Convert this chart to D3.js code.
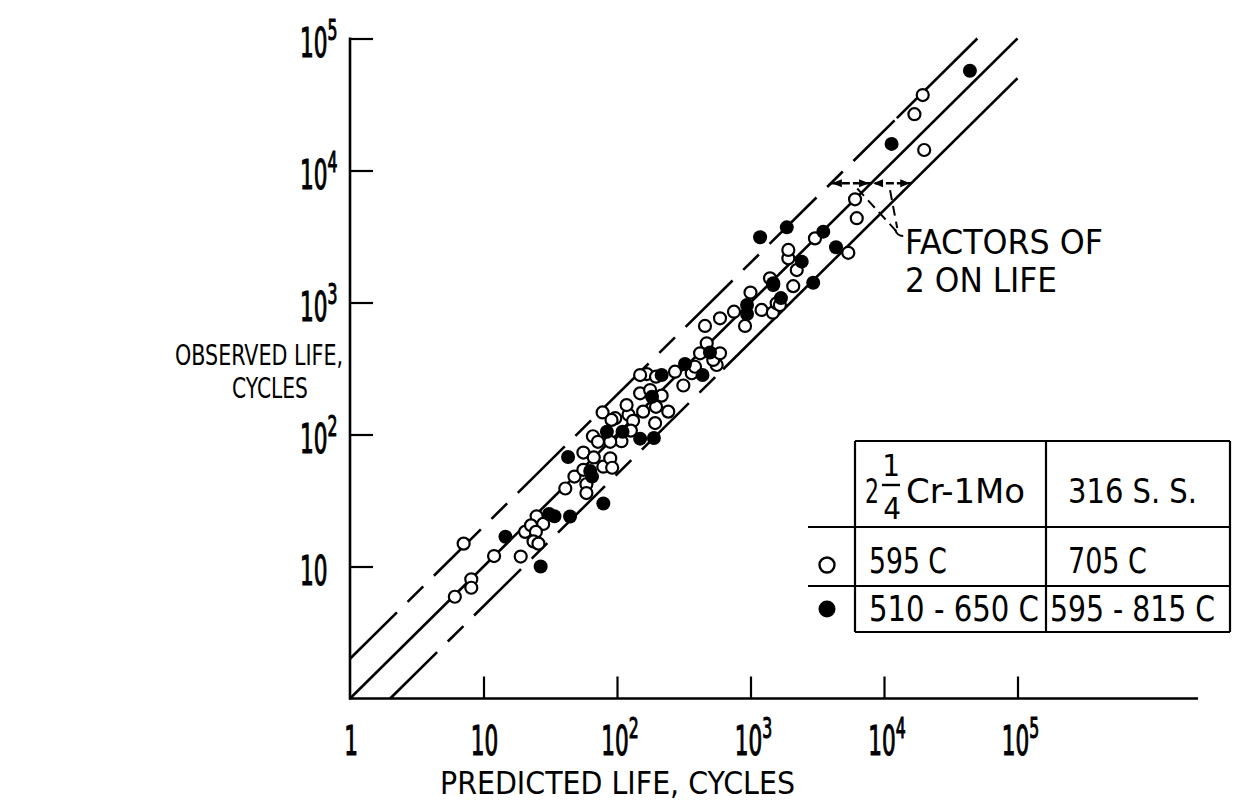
<!DOCTYPE html>
<html><head><meta charset="utf-8">
<script src="https://cdn.jsdelivr.net/npm/d3@7"></script>
<style>
body{margin:0;background:#fff}
svg{display:block}
text{font-family:"Liberation Sans Narrow","DejaVu Sans Condensed","Arial Narrow","DejaVu Sans",sans-serif;fill:#000}
</style>
</head><body>
<svg id="chart" width="1250" height="802"></svg>
<script>
// ---- data ----
const xTickValues = [1, 10, 100, 1000, 10000, 100000];
const xTickBase   = ["1", "10", "10", "10", "10", "10"];
const xTickExp    = ["", "", "2", "3", "4", "5"];
const yTickValues = [10, 100, 1000, 10000, 100000];
const yTickBase   = ["10", "10", "10", "10", "10"];
const yTickExp    = ["", "2", "3", "4", "5"];

const openPredicted = [6.1, 8.1, 8.1, 7.1, 12, 19, 25, 28, 20.5, 22.7, 24.7, 23.7, 25.8, 41, 48, 59, 59, 56, 67, 79, 89, 92, 56, 66, 72, 108, 89, 78, 97, 122, 132, 127, 157, 196, 242, 193, 149, 216, 167, 196, 272, 314, 363, 384, 419, 470, 558, 526, 591, 456, 591, 752, 910, 1000, 1210, 1470, 1570, 1400, 1480, 2090, 1920, 2220, 1920, 3040, 5400, 6070, 6250, 20000, 16900, 19500, 1660, 149, 177, 118, 91];
const openObserved  = [5.9, 8.0, 6.9, 14.9, 12, 11.9, 24, 21, 18.3, 20.5, 18.3, 15.5, 14.9, 39, 48, 42, 36, 73, 67, 57, 66, 56, 54, 97, 88, 89, 88, 147, 133, 141, 127, 107, 149, 162, 149, 122, 205, 197, 287, 274, 299, 235, 291, 326, 412, 491, 336, 367, 412, 664, 759, 852, 664, 1190, 878, 837, 986, 1525, 1360, 1330, 2160, 1760, 2500, 3060, 2380, 6050, 4350, 14300, 26700, 37300, 957, 282, 217, 167, 129];

const filledPredicted = [14.6, 26.8, 31, 34, 44.5, 79, 43, 63, 84, 110, 149, 189, 183, 216, 323, 437, 497, 942, 942, 1690, 1480, 2950, 2420, 1180, 1870, 3510, 4370, 11400, 44000, 65];
const filledObserved  = [16.8, 10, 25, 24, 23.9, 30, 67.5, 53, 105, 105, 93, 94, 193, 282, 342, 282, 418, 957, 818, 1080, 1400, 1410, 2040, 3120, 3710, 3440, 2620, 15900, 57000, 48];

// scatter band lines: observed = factor * predicted; dashed below dashTo, solid above
const bandFactors = [2, 1, 0.5];
const bandDashTo  = [12000, null, 600];

const arrowObserved = 8000;

const legendHeader = ["316 S. S."];
const legendRowsCrMo = ["595 C", "510 - 650 C"];
const legendRowsSS   = ["705 C", "595 - 815 C"];

const xTitle = "PREDICTED LIFE, CYCLES";
const yTitle = ["OBSERVED LIFE,", "CYCLES"];
const noteLines = ["FACTORS OF", "2 ON LIFE"];

// ---- drawing ----
const svg = d3.select("#chart");
const x = d3.scaleLog().domain([1, 1e5]).range([350, 350 + 5 * 133.5]);
const y = d3.scaleLog().domain([1, 1e5]).range([698.5, 698.5 - 5 * 132]);
const X0 = 350, Y0 = 698.5;

// axes
svg.append("g").attr("transform", `translate(0,${Y0})`)
  .call(d3.axisTop(x).tickValues(xTickValues.slice(1)).tickSize(22).tickSizeOuter(0).tickFormat(""))
  .call(g => g.select(".domain").remove())
  .selectAll("line").attr("stroke", "#000").attr("stroke-width", 2.2);
svg.append("line").attr("x1", X0 - 1).attr("x2", 1198).attr("y1", Y0).attr("y2", Y0)
  .attr("stroke", "#000").attr("stroke-width", 2.6);

svg.append("g").attr("transform", `translate(${X0},0)`)
  .call(d3.axisRight(y).tickValues(yTickValues).tickSize(23).tickSizeOuter(0).tickFormat(""))
  .call(g => g.select(".domain").remove())
  .selectAll("line").attr("stroke", "#000").attr("stroke-width", 2.2);
svg.append("line").attr("x1", X0).attr("x2", X0).attr("y1", Y0 + 1).attr("y2", y(1e5) - 1)
  .attr("stroke", "#000").attr("stroke-width", 2.6);

// tick labels
function numLabel(g, base, exp, anchor) {
  const t = g.append("text").attr("text-anchor", anchor).attr("font-size", 40)
    .attr("stroke", "#000").attr("stroke-width", 1.1)
    .attr("transform", "scale(0.6,1)");
  t.append("tspan").text(base);
  if (exp) t.append("tspan").attr("font-size", 29).attr("dy", -17).text(exp);
}
xTickValues.forEach((v, i) => {
  const g = svg.append("g").attr("transform", `translate(${x(v) + (xTickExp[i] ? 3 : 1)},755)`);
  numLabel(g, xTickBase[i], xTickExp[i], "middle");
});
yTickValues.forEach((v, i) => {
  const g = svg.append("g").attr("transform", `translate(300,${y(v) + 18})`);
  numLabel(g, yTickBase[i], yTickExp[i], "start");
});

// titles
svg.append("text").attr("x", 440).attr("y", 794).attr("font-size", 32)
  .attr("textLength", 355).attr("lengthAdjust", "spacingAndGlyphs").text(xTitle);
svg.append("text").attr("x", 175).attr("y", 365).attr("font-size", 29)
  .attr("textLength", 168).attr("lengthAdjust", "spacingAndGlyphs").text(yTitle[0]);
svg.append("text").attr("x", 270).attr("y", 398).attr("font-size", 29).attr("text-anchor", "middle")
  .attr("textLength", 76).attr("lengthAdjust", "spacingAndGlyphs").text(yTitle[1]);

// band lines
const lineGen = d3.line().x(d => x(d[0])).y(d => y(d[1]));
bandFactors.forEach((f, i) => {
  const xs = Math.max(1, 1 / f);
  const xe = Math.min(1e5, 1e5 / f);
  const br = bandDashTo[i];
  if (br) {
    svg.append("path").attr("d", lineGen([[xs, xs * f], [br, br * f]]))
      .attr("fill", "none").attr("stroke", "#000").attr("stroke-width", 2.6)
      .attr("stroke-dasharray", "66,15,22,15");
    svg.append("path").attr("d", lineGen([[br * 1.04, br * 1.04 * f], [xe, xe * f]]))
      .attr("fill", "none").attr("stroke", "#000").attr("stroke-width", 2.6);
  } else {
    svg.append("path").attr("d", lineGen([[xs, xs * f], [xe, xe * f]]))
      .attr("fill", "none").attr("stroke", "#000").attr("stroke-width", 2.6);
  }
});

// data points
const openData = openPredicted.map((p, i) => [p, openObserved[i]]);
const filledData = filledPredicted.map((p, i) => [p, filledObserved[i]]);
svg.append("g").selectAll("circle").data(openData).join("circle")
  .attr("cx", d => x(d[0])).attr("cy", d => y(d[1])).attr("r", 6)
  .attr("fill", "#fff").attr("stroke", "#000").attr("stroke-width", 2.2);
svg.append("g").selectAll("circle").data(filledData).join("circle")
  .attr("cx", d => x(d[0])).attr("cy", d => y(d[1])).attr("r", 7)
  .attr("fill", "#000");

// factor-of-2 arrow
const ay = y(arrowObserved);
const xa = x(arrowObserved / 2), xb = x(arrowObserved), xc = x(arrowObserved * 2);
svg.append("line").attr("x1", xa).attr("x2", xc).attr("y1", ay).attr("y2", ay)
  .attr("stroke", "#000").attr("stroke-width", 2.4).attr("stroke-dasharray", "8,3");
function head(tip, dir) {
  svg.append("path").attr("d", `M${tip},${ay} L${tip - dir * 10},${ay - 4} L${tip - dir * 10},${ay + 4} Z`).attr("fill", "#000");
}
head(xa + 1, -1); head(xb - 2, 1); head(xb + 2, -1); head(xc - 1, 1);

// leader lines
const tipX = x(13000), tipY = y(3300);
svg.append("path").attr("d", `M${x(6300)},${y(7300)} L${tipX - 3},${tipY - 3}`)
  .attr("fill", "none").attr("stroke", "#000").attr("stroke-width", 2).attr("stroke-dasharray", "10,6");
svg.append("path").attr("d", `M${x(11100)},${y(7100)} L${tipX - 2},${tipY - 6}`)
  .attr("fill", "none").attr("stroke", "#000").attr("stroke-width", 2).attr("stroke-dasharray", "10,6");
svg.append("path").attr("d", `M${tipX - 4},${tipY - 4} Q${tipX - 2},${tipY + 2} ${tipX + 4},${tipY + 2}`)
  .attr("fill", "none").attr("stroke", "#000").attr("stroke-width", 2);

svg.append("text").attr("x", 905).attr("y", 254).attr("font-size", 34)
  .attr("textLength", 198).attr("lengthAdjust", "spacingAndGlyphs").text(noteLines[0]);
svg.append("text").attr("x", 905).attr("y", 292).attr("font-size", 34)
  .attr("textLength", 152).attr("lengthAdjust", "spacingAndGlyphs").text(noteLines[1]);

// legend table
const L = {left: 808, c1: 855, c2: 1046, right: 1230, top: 441, r1: 527, r2: 586, bottom: 632};
const tl = (x1, y1, x2, y2) => svg.append("line").attr("x1", x1).attr("y1", y1).attr("x2", x2).attr("y2", y2)
  .attr("stroke", "#000").attr("stroke-width", 2.2);
tl(L.c1, L.top, L.right, L.top);
tl(L.left, L.r1, L.right, L.r1);
tl(L.left, L.r2, L.right, L.r2);
tl(L.c1, L.bottom, L.right, L.bottom);
tl(L.c1, L.top, L.c1, L.bottom);
tl(L.c2, L.top, L.c2, L.bottom);
tl(L.right, L.top, L.right, L.bottom);

// header: 2 1/4 Cr-1Mo
svg.append("text").attr("x", 865).attr("y", 503).attr("font-size", 33).attr("textLength", 14)
  .attr("lengthAdjust", "spacingAndGlyphs").text("2");
svg.append("text").attr("x", 891).attr("y", 476).attr("font-size", 31).attr("text-anchor", "middle").text("1");
svg.append("line").attr("x1", 882).attr("x2", 900).attr("y1", 485).attr("y2", 485).attr("stroke", "#000").attr("stroke-width", 2.4);
svg.append("text").attr("x", 892).attr("y", 519).attr("font-size", 31).attr("text-anchor", "middle").text("4");
svg.append("text").attr("x", 906).attr("y", 503).attr("font-size", 34).attr("textLength", 119)
  .attr("lengthAdjust", "spacingAndGlyphs").text("Cr-1Mo");
svg.append("text").attr("x", 1068).attr("y", 503).attr("font-size", 34).attr("textLength", 129)
  .attr("lengthAdjust", "spacingAndGlyphs").text(legendHeader[0]);

const rowBase = [573, 621];
const crWidths = [78, 170], ssWidths = [79, 165];
legendRowsCrMo.forEach((t, i) => {
  svg.append("text").attr("x", 869).attr("y", rowBase[i]).attr("font-size", 36)
    .attr("textLength", crWidths[i]).attr("lengthAdjust", "spacingAndGlyphs").text(t);
});
legendRowsSS.forEach((t, i) => {
  svg.append("text").attr("x", i === 0 ? 1068 : 1050).attr("y", rowBase[i]).attr("font-size", 36)
    .attr("textLength", ssWidths[i]).attr("lengthAdjust", "spacingAndGlyphs").text(t);
});
svg.append("circle").attr("cx", 827).attr("cy", 565).attr("r", 7.5).attr("fill", "#fff")
  .attr("stroke", "#000").attr("stroke-width", 2.4);
svg.append("circle").attr("cx", 827).attr("cy", 609).attr("r", 8.5).attr("fill", "#000");
</script>
</body></html>
